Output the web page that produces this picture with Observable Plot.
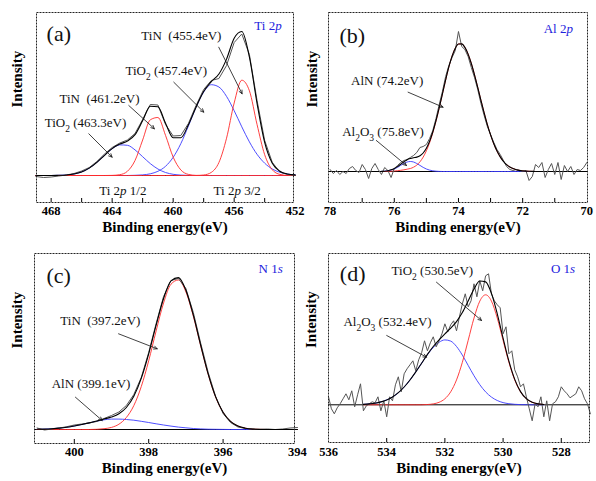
<!DOCTYPE html>
<html><head><meta charset="utf-8">
<script src="https://cdn.jsdelivr.net/npm/d3@7"></script>
<script src="https://cdn.jsdelivr.net/npm/@observablehq/plot@0.6"></script>
<style>
html,body{margin:0;padding:0;background:#fff;}
#root{position:relative;width:596px;height:481px;overflow:hidden;background:#fff;}
.panel{position:absolute;}
.panel svg{overflow:visible;display:block;}
</style></head><body><div id="root"></div>
<script>
// ---------------- Panel (a) Ti 2p ----------------
const aEnergy = [469,468.5,468,467.5,467,466.5,466,465.5,465,464.5,464,463.5,463,462.5,462,461.5,461,460.5,460,459.5,459,458.5,458,457.5,457,456.5,456,455.5,455,454.5,454,453.5,453,452.5,452];
const aTiO2_463 = [0,0,0,0.2,0.5,1.5,3.6,7.4,13.2,20.2,26.8,30.6,30.2,25.6,18.8,11.9,6.5,3.0,1.2,0.4,0.1,0,0,0,0,0,0,0,0,0,0,0,0,0,0];
const aTiN_461 = [0,0,0,0,0,0,0,0,0,0,0.1,0.8,4.2,15.0,35.5,55.7,58.0,40.1,18.4,5.6,1.1,0.1,0,0,0,0,0,0,0,0,0,0,0,0,0];
const aTiO2_457 = [0,0,0,0,0,0,0,0,0,0,0,0,0,0.2,0.6,1.7,4.2,9.2,18.2,31.8,49.5,68.2,83.5,90.8,88.5,79.1,64.8,48.7,33.6,21.2,12.3,6.5,3.2,1.4,0.6];
const aTiN_455 = [0,0,0,0,0,0,0,0,0,0,0,0,0,0,0,0,0,0,0,0,0,0,0.5,3.1,13.0,37.3,72.5,95.3,84.7,51.0,20.8,5.7,1.1,0.1,0];
const aFit = [0,0,0,0.2,0.5,1.5,3.6,7.4,13.2,20.2,26.9,31.4,34.4,40.8,54.9,69.3,68.7,52.3,37.8,37.8,50.7,68.3,84.0,93.9,101.5,116.4,137.3,144.0,118.3,72.2,33.1,12.2,4.3,1.5,0.6];
const aRaw = [-1,-2,-1.5,-0.5,0.5,2,4.5,8,14,21.5,28,32.5,35.5,42,56,71,70.5,51,39.5,40,52,70,86,95,97,110,133,141.5,121,75,35,13,3.5,1,0];
const aTickLabels = [468,464,460,456,452];
const aMinorTicks = [468,466,464,462,460,458,456,454];
const aLabels = [
  {x:467.5, y:142, text:"(a)", size:22},
  {x:453.78, y:150, text:"Ti 2p", blue:true},
  {x:459.46, y:140, text:"TiN  (455.4eV)"},
  {x:460.45, y:105, text:"TiO2 (457.4eV)"},
  {x:464.83, y:77, text:"TiN  (461.2eV)"},
  {x:465.75, y:53, text:"TiO2 (463.3eV)"},
  {x:463.3, y:-15, text:"Ti 2p 1/2"},
  {x:455.8, y:-15, text:"Ti 2p 3/2"}
];
const aArrows = [
  {x1:457.01, y1:128.3, x2:455.48, y2:81.7},
  {x1:459.96, y1:93.3, x2:457.99, y2:63.3},
  {x1:462.91, y1:70, x2:461.23, y2:46.7},
  {x1:465.53, y1:41.7, x2:464.0, y2:18.3}
];

// ---------------- Panel (b) Al 2p ----------------
const bFitEnergy = [76.4,76.3,76.2,76.1,76.0,75.9,75.8,75.7,75.6,75.5,75.4,75.3,75.2,75.1,75.0,74.9,74.8,74.7,74.6,74.5,74.4,74.3,74.2,74.1,74.0,73.9,73.8,73.7,73.6,73.5,73.4,73.3,73.2,73.1,73.0,72.9,72.8,72.7,72.6,72.5,72.4,72.3,72.2,72.1,72.0,71.9,71.8,71.7,71.6];
const bAlN = [0,0,0.1,0.3,0.5,0.8,1.2,1.7,2.3,3.0,4.3,6.4,9.7,14.4,20.7,28.8,38.8,50.5,63.7,77.6,91.6,104.6,115.4,123.3,127.5,127.6,124.1,117.4,108.0,96.6,84.1,71.2,58.6,46.9,36.6,27.7,20.4,14.6,10.2,6.9,4.5,2.9,1.8,1.1,0.7,0.4,0.2,0.1,0];
const bAl2O3 = [0.1,0.3,0.7,1.4,2.5,4.1,6.1,8.0,9.5,10,9.5,8.0,6.1,4.1,2.5,1.4,0.7,0.3,0.1,0,0,0,0,0,0,0,0,0,0,0,0,0,0,0,0,0,0,0,0,0,0,0,0,0,0,0,0,0,0];
const bFit = [0.1,0.3,0.8,1.7,3.0,4.9,7.3,9.7,11.8,13.0,13.8,14.4,15.8,18.5,23.2,30.2,39.5,50.8,63.8,77.6,91.6,104.6,115.4,123.3,127.5,127.6,124.1,117.4,108.0,96.6,84.1,71.2,58.6,46.9,36.6,27.7,20.4,14.6,10.2,6.9,4.5,2.9,1.8,1.1,0.7,0.4,0.2,0.1,0];
const bRaw = [[78.0,2],[77.9,-2],[77.8,1],[77.7,-3],[77.6,0],[77.5,-2],[77.4,3],[77.3,5],[77.2,1],[77.1,-1],[77.0,7],[76.9,2],[76.8,-7],[76.7,3],[76.6,8],[76.5,2],[76.4,-3],[76.3,4],[76.2,1],[76.1,-6],[76.0,3],[75.9,6],[75.8,9],[75.7,11],[75.6,12],[75.5,14],[75.4,16],[75.3,19],[75.2,24],[75.1,25],[75.0,27],[74.9,33],[74.8,41],[74.7,53],[74.6,67],[74.5,80],[74.4,95],[74.3,106],[74.2,114],[74.1,121],[74.0,140],[73.9,125],[73.8,122],[73.7,115],[73.6,104],[73.5,94],[73.4,82],[73.3,68],[73.2,56],[73.1,45],[73.0,37],[72.9,29],[72.8,22],[72.7,17],[72.6,11],[72.5,5],[72.4,2],[72.3,1],[72.2,2],[72.1,1],[72.0,0],[71.9,1],[71.8,-9],[71.7,-5],[71.6,7],[71.5,4],[71.4,9],[71.3,-6],[71.2,2],[71.1,8],[71.0,-3],[70.9,9],[70.8,-8],[70.7,6],[70.6,0],[70.5,5],[70.4,-3],[70.3,2],[70.2,1],[70.1,4],[70.0,9]];
const bTickLabels = [78,76,74,72,70];
const bMinorTicks = [77,76,75,74,73,72,71];
const bLabels = [
  {x:77.31, y:136, text:"(b)", size:22},
  {x:70.89, y:142.7, text:"Al 2p", blue:true},
  {x:76.22, y:91, text:"AlN (74.2eV)"},
  {x:76.35, y:39.3, text:"Al2O3 (75.8eV)"}
];
const bArrows = [
  {x1:75.57, y1:79.3, x2:74.48, y2:64.3},
  {x1:76.56, y1:31, x2:75.62, y2:6}
];

// ---------------- Panel (c) N 1s ----------------
const cEnergy = [401.0,400.8,400.6,400.4,400.2,400.0,399.8,399.6,399.4,399.2,399.0,398.8,398.6,398.4,398.2,398.0,397.8,397.6,397.4,397.2,397.0,396.8,396.6,396.4,396.2,396.0,395.8,395.6,395.4,395.2,395.0,394.8,394.6,394.4,394.2,394.0];
const cTiN = [0,0,0,0,0,0,0,0,0.2,0.8,2.1,5.3,12.0,23.9,42.9,68.7,98.6,126.5,145.3,149.5,137.6,113.3,83.4,55.1,32.4,17.1,8.1,3.4,1.3,0.4,0.1,0,0,0,0,0];
const cAlN = [0.2,0.4,0.8,1.4,2.3,3.5,5.0,6.6,8.3,9.7,10.4,10.4,10.0,9.3,8.2,7.0,5.7,4.5,3.4,2.4,1.7,1.0,0.6,0.3,0.2,0.1,0,0,0,0,0,0,0,0,0,0];
const cFit = [0.2,0.4,0.8,1.4,2.3,3.5,5.0,6.6,8.5,10.5,12.5,15.7,22.0,33.2,51.1,75.7,104.3,131.0,148.7,151.9,139.3,114.3,84.0,55.4,32.6,17.2,8.1,3.4,1.3,0.4,0.1,0,0,0,0,0];
const cRaw = [1.5,-0.5,0.5,1.5,2.8,4.5,5.5,6.5,8.0,11,14,17.5,24,35,52,77,106,133,149,151,141,117,86,57,33,16,7,2.5,1,0.5,0,0.5,0,0.5,1.5,2];
const cTickLabels = [400,398,396,394];
const cMinorTicks = [400,398,396];
const cLabels = [
  {x:400.42, y:154, text:"(c)", size:22},
  {x:394.72, y:160.7, text:"N 1s", blue:true},
  {x:399.3, y:109, text:"TiN  (397.2eV)"},
  {x:399.55, y:45.7, text:"AlN (399.1eV)"}
];
const cArrows = [
  {x1:398.81, y1:95.7, x2:397.77, y2:80.7},
  {x1:399.97, y1:32.3, x2:399.25, y2:9}
];

// ---------------- Panel (d) O 1s ----------------
const dFitEnergy = [534.8,534.6,534.4,534.2,534.0,533.8,533.6,533.4,533.2,533.0,532.8,532.6,532.4,532.2,532.0,531.8,531.6,531.4,531.2,531.0,530.8,530.6,530.4,530.2,530.0,529.8,529.6,529.4,529.2,529.0,528.8,528.6];
const dTiO2 = [0,0,0,0,0,0,0,0,0,0,0,0.3,0.9,2.5,6.0,13.0,24.9,42.5,64.4,86.7,103.7,110,103.7,86.7,64.4,42.5,24.9,13.0,6.0,2.5,0.9,0.3];
const dAl2O3 = [0.4,0.9,1.6,2.9,4.9,7.8,12.1,17.8,24.8,32.9,41.6,50.1,57.4,62.5,64.9,63.7,58.3,49.7,39.4,29.1,20.1,12.9,7.7,4.3,2.2,1.1,0.5,0.2,0.1,0,0,0];
const dFit = [0.4,0.9,1.6,2.9,4.9,7.8,12.1,17.8,24.8,32.9,41.6,50.4,58.3,65.0,70.9,76.7,83.2,92.2,103.8,115.8,123.8,122.9,111.4,91.0,66.6,43.6,25.4,13.2,6.1,2.5,0.9,0.3];
const dRaw = [[536.0,8],[535.9,-4],[535.8,-9],[535.7,-3],[535.6,1],[535.5,6],[535.4,11],[535.3,5],[535.2,14],[535.1,-2],[535.0,10],[534.9,21],[534.8,-6],[534.7,-1],[534.6,1],[534.5,3],[534.4,2],[534.3,8],[534.2,-6],[534.1,4],[534.0,-12],[533.9,8],[533.8,4],[533.7,20],[533.6,28],[533.5,13],[533.4,31],[533.3,36],[533.2,40],[533.1,44],[533.0,34],[532.9,45],[532.8,52],[532.7,64],[532.6,54],[532.5,62],[532.4,68],[532.3,58],[532.2,64],[532.1,71],[532.0,81],[531.9,73],[531.8,80],[531.7,84],[531.6,74],[531.5,88],[531.4,101],[531.3,111],[531.2,98],[531.1,104],[531.0,121],[530.9,108],[530.8,124],[530.7,114],[530.6,129],[530.5,131],[530.4,111],[530.3,104],[530.2,100],[530.1,97],[530.0,71],[529.9,78],[529.8,51],[529.7,54],[529.6,35],[529.5,28],[529.4,18],[529.3,21],[529.2,8],[529.1,-4],[529.0,-16],[528.9,1],[528.8,-2],[528.7,8],[528.6,-12],[528.5,4],[528.4,-16],[528.3,1],[528.2,3],[528.1,8],[528.0,18],[527.9,14],[527.8,11],[527.7,7],[527.6,9],[527.5,11],[527.4,18],[527.3,14],[527.2,6],[527.1,1],[527.0,-9]];
const dTickLabels = [536,534,532,530,528];
const dMinorTicks = [534,532,530,528];
const dLabels = [
  {x:535.17, y:131, text:"(d)", size:22},
  {x:527.94, y:136, text:"O 1s", blue:true},
  {x:532.43, y:134.3, text:"TiO2 (530.5eV)"},
  {x:533.97, y:82.6, text:"Al2O3 (532.4eV)"}
];
const dArrows = [
  {x1:532.29, y1:122.6, x2:530.74, y2:84.3},
  {x1:534.0, y1:69.3, x2:532.63, y2:47.6}
];

// ---------------- rendering ----------------
const FONT = "'Liberation Serif','Times New Roman',serif";
const RED = "#ff2a2a", BLUE = "#3a3aff", LBLUE = "#2222dd";
const zip = (xs, ys) => xs.map((x, i) => ({x, y: ys[i]}));
const pairs = ps => ps.map(([x, y]) => ({x, y}));

function richHTML(s) {
  return s
    .replace(/Al2O3/g, 'Al<tspan baseline-shift="sub" font-size="9.5">2</tspan>O<tspan baseline-shift="sub" font-size="9.5">3</tspan>')
    .replace(/TiO2/g, 'TiO<tspan baseline-shift="sub" font-size="9.5">2</tspan>')
    .replace(/ 2p/g, ' 2<tspan font-style="italic">p</tspan>')
    .replace(/ 1s/g, ' 1<tspan font-style="italic">s</tspan>');
}

function panel(cfg) {
  const yMin = cfg.yDomain[0];
  const marks = [
    Plot.ruleY([0], {stroke: "#000", strokeWidth: 1}),
    ...cfg.components.map(c => Plot.line(zip(c.x, c.y), {x: "x", y: "y", stroke: c.color, strokeWidth: 0.9, curve: "monotone-x"})),
    Plot.line(cfg.raw, {x: "x", y: "y", stroke: "#555", strokeWidth: 1}),
    Plot.line(zip(cfg.fitX, cfg.fit), {x: "x", y: "y", stroke: "#000", strokeWidth: 1.1, curve: "monotone-x"}),
    Plot.ruleX(cfg.minorTicks, {x: d => d, y1: yMin, y2: yMin + 4, stroke: "#000", strokeWidth: 1}),
    Plot.frame({stroke: "#222", strokeWidth: 1, strokeDasharray: "2,1"}),
    Plot.arrow(cfg.arrows, {x1: "x1", y1: "y1", x2: "x2", y2: "y2", stroke: "#111", strokeWidth: 0.8, headLength: 7, headAngle: 50}),
    Plot.text(cfg.labels.filter(d => !d.size && !d.blue), {x: "x", y: "y", text: "text", fontSize: 13, fontWeight: "normal", fill: "#111"}),
    Plot.text(cfg.labels.filter(d => d.blue), {x: "x", y: "y", text: "text", fontSize: 13, fontWeight: "normal", fill: LBLUE}),
    Plot.text(cfg.labels.filter(d => d.size), {x: "x", y: "y", text: "text", fontSize: 22, fontWeight: "normal", fill: "#111"}),
    Plot.text(["Binding energy(eV)"], {frameAnchor: "bottom", dy: cfg.titleDy, fontSize: 15, fontWeight: "bold", fill: "#000"}),
    Plot.text(["Intensity"], {frameAnchor: "left", dx: cfg.intensityDx, rotate: -90, fontSize: 15, fontWeight: "bold", fill: "#000"})
  ];
  const svg = Plot.plot({
    width: cfg.width, height: cfg.height,
    marginLeft: cfg.m[0], marginRight: cfg.m[1], marginTop: cfg.m[2], marginBottom: cfg.m[3],
    x: {domain: cfg.xDomain, ticks: cfg.tickLabels, tickSize: 0, tickPadding: cfg.tickPadding, tickFormat: d => String(d), label: null},
    y: {domain: cfg.yDomain, axis: null},
    style: {background: "transparent", overflow: "visible", fontFamily: FONT, fontSize: "12.5px", fontWeight: "bold", color: "#000"},
    marks
  });
  svg.querySelectorAll("text").forEach(t => {
    if (t.querySelector("tspan")) return;
    const s = t.textContent;
    const h = richHTML(s);
    if (h !== s) t.innerHTML = h;
  });
  const div = document.createElement("div");
  div.className = "panel";
  div.style.left = cfg.left + "px";
  div.style.top = cfg.top + "px";
  div.appendChild(svg);
  document.getElementById("root").appendChild(div);
}

panel({
  left: 0, top: 0, width: 298, height: 240, m: [36, 5, 12, 38],
  xDomain: [468.96, 452.11], yDomain: [-27, 163],
  tickLabels: aTickLabels, minorTicks: aMinorTicks, tickPadding: 4, titleDy: 29, intensityDx: -19,
  components: [
    {x: aEnergy, y: aTiO2_463, color: BLUE},
    {x: aEnergy, y: aTiO2_457, color: BLUE},
    {x: aEnergy, y: aTiN_461, color: RED},
    {x: aEnergy, y: aTiN_455, color: RED}
  ],
  raw: zip(aEnergy, aRaw), fitX: aEnergy, fit: aFit,
  labels: aLabels, arrows: aArrows
});
panel({
  left: 296, top: 0, width: 300, height: 240, m: [32, 9, 12, 38],
  xDomain: [78.05, 69.98], yDomain: [-31, 159],
  tickLabels: bTickLabels, minorTicks: bMinorTicks, tickPadding: 4, titleDy: 29, intensityDx: -16,
  components: [
    {x: bFitEnergy, y: bAl2O3, color: BLUE},
    {x: bFitEnergy, y: bAlN, color: RED}
  ],
  raw: pairs(bRaw), fitX: bFitEnergy, fit: bFit,
  labels: bLabels, arrows: bArrows
});
panel({
  left: 0, top: 240, width: 298, height: 241, m: [34, 4, 13, 38],
  xDomain: [401.07, 394.08], yDomain: [-14, 176],
  tickLabels: cTickLabels, minorTicks: cMinorTicks, tickPadding: 4, titleDy: 29, intensityDx: -17,
  components: [
    {x: cEnergy, y: cAlN, color: BLUE},
    {x: cEnergy, y: cTiN, color: RED}
  ],
  raw: zip(cEnergy, cRaw), fitX: cEnergy, fit: cFit,
  labels: cLabels, arrows: cArrows
});
panel({
  left: 296, top: 240, width: 300, height: 241, m: [32, 7, 13, 39],
  xDomain: [536, 527.03], yDomain: [-37.7, 151.3],
  tickLabels: dTickLabels, minorTicks: dMinorTicks, tickPadding: 5, titleDy: 30, intensityDx: -17,
  components: [
    {x: dFitEnergy, y: dAl2O3, color: BLUE},
    {x: dFitEnergy, y: dTiO2, color: RED}
  ],
  raw: pairs(dRaw), fitX: dFitEnergy, fit: dFit,
  labels: dLabels, arrows: dArrows
});
</script></body></html>
